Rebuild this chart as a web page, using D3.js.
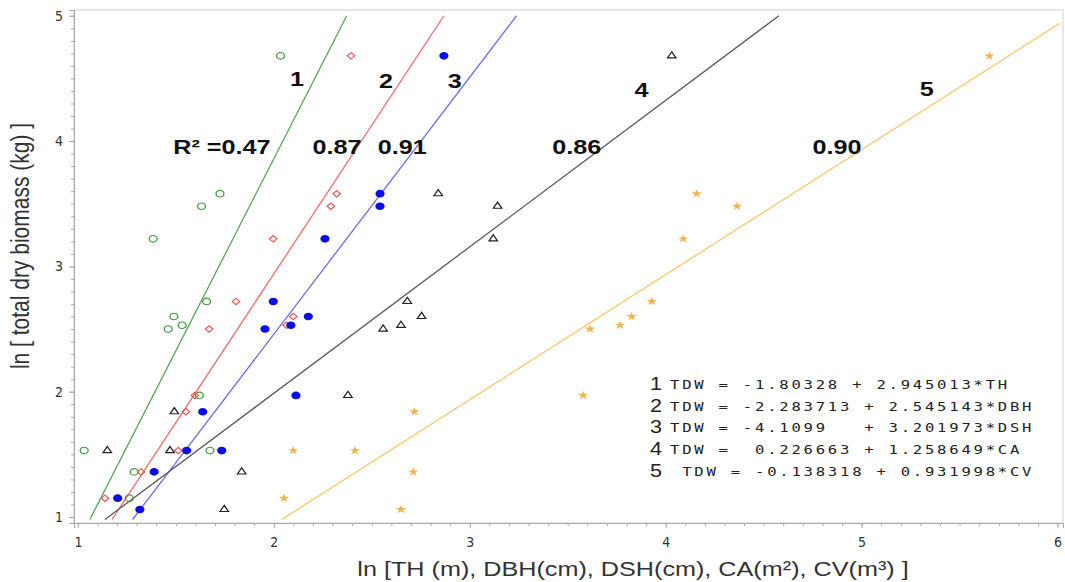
<!DOCTYPE html>
<html>
<head>
<meta charset="utf-8">
<script src="https://cdn.jsdelivr.net/npm/d3@7"></script>
<style>
  body { margin: 0; background: #fff; }
  svg { display: block; }
</style>
</head>
<body>
<div id="chart"></div>
<script>
// ln(total dry biomass) of each tree, shared by all five predictors
const tdwLevels = [4.68, 3.58, 3.48, 3.22, 2.72, 2.60, 2.53, 2.50, 1.97, 1.84, 1.53, 1.53, 1.36, 1.15, 1.06];

// ln of the predictor for each tree (null = not visible in the figure)
const lnTH  = [2.034, 1.725, 1.631, 1.384, 1.657, 1.490, 1.532, 1.461, 1.620, null, 1.032, 1.674, 1.287, 1.262, null];
const lnDBH = [2.394, 2.321, 2.291, 1.997, 1.807, 2.099, 2.065, 1.670, 1.597, 1.551, 1.512, null, 1.322, 1.138, null];
const lnDSH = [2.868, 2.542, 2.542, 2.261, 1.997, 2.176, 2.087, 1.955, 2.113, 1.637, 1.555, 1.734, 1.389, 1.203, 1.316];
const lnCA  = [4.031, 2.839, 3.142, 3.120, 2.681, 2.754, 2.649, 2.558, 2.378, 1.492, 1.150, 1.470, 1.836, null, 1.747];
const lnCV  = [5.652, 4.158, 4.365, 4.090, 3.929, 3.826, 3.767, 3.614, 3.579, 2.717, 2.414, 2.099, 2.712, 2.052, 2.649];

// fitted lines as drawn: [x0, y0, x1, y1]
const fitTH  = [1.061, 0.98, 2.372, 5.0];
const fitDBH = [1.174, 0.98, 2.868, 5.0];
const fitDSH = [1.279, 0.98, 3.239, 5.0];
const fitCA  = [1.138, 0.98, 4.578, 5.0];
const fitCV  = [2.040, 0.98, 6.012, 4.94];

const lineIds = ["1", "2", "3", "4", "5"];
const r2Values = ["0.47", "0.87", "0.91", "0.86", "0.90"];
const equations = [
  "TDW = -1.80328 + 2.945013*TH",
  "TDW = -2.283713 + 2.545143*DBH",
  "TDW = -4.1099   + 3.201973*DSH",
  "TDW =  0.226663 + 1.258649*CA",
  " TDW = -0.138318 + 0.931998*CV"
];
const xTicks = [1, 2, 3, 4, 5, 6];
const yTicks = [1, 2, 3, 4, 5];
const xLabel = "ln [TH (m), DBH(cm), DSH(cm), CA(m\u00B2), CV(m\u00B3) ]";
const yLabel = "ln [ total dry biomass (kg) ]";

// where the line numbers and R² values sit, in axis units
const idAnchors = [[2.118, 4.44], [2.572, 4.424], [2.924, 4.424], [3.877, 4.352], [5.332, 4.36]];
const r2Anchors = [[1.735, 3.897], [2.322, 3.897], [2.655, 3.897], [3.546, 3.897], [4.874, 3.897]];

const width = 1065, height = 582;
const margin = { top: 10, right: 2, bottom: 59, left: 74 };
const SX = 1.2; // the figure is stretched horizontally

// open diamond drawn as a rotated square
const rhombus = {
  draw(ctx, size) {
    const r = Math.sqrt(size / 2);
    ctx.moveTo(0, -r); ctx.lineTo(r, 0); ctx.lineTo(0, r); ctx.lineTo(-r, 0); ctx.closePath();
  }
};

const series = [
  { xs: lnTH,  fit: fitTH,  line: "#58a458", shape: d3.symbolCircle,   size: 34, stroke: "#3f9a3f", fill: "none" },
  { xs: lnDBH, fit: fitDBH, line: "#f06c6c", shape: rhombus,           size: 20, stroke: "#e85a55", fill: "none" },
  { xs: lnDSH, fit: fitDSH, line: "#6c6cf2", shape: d3.symbolCircle,   size: 46, stroke: "none",    fill: "#0c0ce8" },
  { xs: lnCA,  fit: fitCA,  line: "#5a5a5a", shape: d3.symbolTriangle, size: 22, stroke: "#222",    fill: "none" },
  { xs: lnCV,  fit: fitCV,  line: "#fbc66e", shape: d3.symbolStar,     size: 24, stroke: "none",    fill: "#f2b24c" }
];

const svg = d3.select("#chart").append("svg")
  .attr("width", width)
  .attr("height", height);

svg.append("rect").attr("width", width).attr("height", height).attr("fill", "#fff");

const x = d3.scaleLinear().domain([0.98, 6.028]).range([margin.left, width - margin.right]);
const y = d3.scaleLinear().domain([0.952, 5.046]).range([height - margin.bottom, margin.top]);

// frame
svg.append("rect")
  .attr("x", margin.left).attr("y", margin.top)
  .attr("width", width - margin.left - margin.right)
  .attr("height", height - margin.top - margin.bottom)
  .attr("fill", "none").attr("stroke", "#d0d0d0");

// axes: majors with labels, minor ticks every 0.1
const xMinor = d3.range(10, 61).map(d => d / 10);
const yMinor = d3.range(10, 51).map(d => d / 10);

const gx = svg.append("g").attr("transform", `translate(0,${height - margin.bottom})`);
gx.append("g").call(d3.axisBottom(x).tickValues(xMinor).tickSize(3).tickFormat(""));
gx.append("g").call(d3.axisBottom(x).tickValues(xTicks).tickSize(5).tickPadding(9).tickFormat(d3.format("d")));

const gy = svg.append("g").attr("transform", `translate(${margin.left},0)`);
gy.append("g").call(d3.axisLeft(y).tickValues(yMinor).tickSize(3).tickFormat(""));
gy.append("g").call(d3.axisLeft(y).tickValues(yTicks).tickSize(5).tickPadding(6).tickFormat(d3.format("d")));

svg.selectAll(".domain").attr("stroke", "#a8a8a8");
svg.selectAll(".tick line").attr("stroke", "#a8a8a8");
svg.selectAll(".tick text")
  .attr("fill", "#333")
  .style("font-family", "'Liberation Sans Narrow', 'DejaVu Sans Condensed', sans-serif")
  .style("font-size", "14px");

// fitted lines
svg.append("g").selectAll("line").data(series).join("line")
  .attr("x1", d => x(d.fit[0])).attr("y1", d => y(d.fit[1]))
  .attr("x2", d => x(d.fit[2])).attr("y2", d => y(d.fit[3]))
  .attr("stroke", d => d.line)
  .attr("stroke-width", 1.3);

// points
series.forEach(s => {
  const pts = tdwLevels.map((t, i) => ({ x: s.xs[i], y: t })).filter(p => p.x != null);
  svg.append("g").selectAll("path").data(pts).join("path")
    .attr("d", d3.symbol(s.shape, s.size))
    .attr("transform", p => `translate(${x(p.x)},${y(p.y)}) scale(${SX},1)`)
    .attr("fill", s.fill)
    .attr("stroke", s.stroke)
    .attr("stroke-width", 1.1);
});

function stretched(g, px, py, txt, size, weight, anchor) {
  return g.append("text")
    .attr("transform", `translate(${px},${py}) scale(${SX},1)`)
    .attr("text-anchor", anchor || "middle")
    .style("font-family", "'Liberation Sans', Arial, sans-serif")
    .style("font-size", size + "px")
    .style("font-weight", weight || "normal")
    .attr("fill", "#111")
    .text(txt);
}

// line numbers and R² annotations
const ann = svg.append("g");
lineIds.forEach((id, i) => stretched(ann, x(idAnchors[i][0]), y(idAnchors[i][1]), id, 21, "bold"));
r2Values.forEach((r, i) => {
  const label = i === 0 ? "R\u00B2 =" + r : r;
  stretched(ann, x(r2Anchors[i][0]), y(r2Anchors[i][1]), label, 21, "bold");
});

// equation legend
const leg = svg.append("g");
equations.forEach((eq, i) => {
  const by = 389 + i * 21.7;
  stretched(leg, 656, by + 1, lineIds[i], 18, "normal").attr("fill", "#222");
  leg.append("text")
    .attr("transform", `translate(670,${by}) scale(${SX},1)`)
    .attr("xml:space", "preserve")
    .style("white-space", "pre")
    .style("font-family", "'DejaVu Sans Mono', monospace")
    .style("font-size", "13px")
    .style("letter-spacing", "2.3px")
    .attr("fill", "#222")
    .text(eq);
});

// axis titles
stretched(svg, 633, 576, xLabel, 21, "normal").attr("fill", "#333");
svg.append("text")
  .attr("transform", `translate(29,246) scale(${SX},1) rotate(-90)`)
  .attr("text-anchor", "middle")
  .style("font-family", "'Liberation Sans', Arial, sans-serif")
  .style("font-size", "21px")
  .attr("fill", "#333")
  .text(yLabel);
</script>
</body>
</html>
